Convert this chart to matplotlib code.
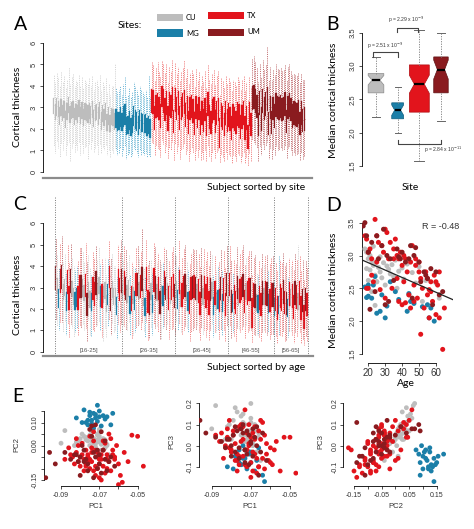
import numpy as np
import matplotlib
matplotlib.use('Agg')
import matplotlib.pyplot as plt
from matplotlib.patches import Rectangle

plt.rcParams['font.family'] = ['Liberation Sans', 'DejaVu Sans']
plt.rcParams['axes.linewidth'] = 0.6
plt.rcParams['xtick.major.width'] = 0.6
plt.rcParams['ytick.major.width'] = 0.6

# ---------------- data: per-subject values, grouped by site ----------------
sites = ['CU', 'MG', 'TX', 'UM']

cu_age = [18, 19, 19, 20, 20, 21, 21, 22, 22, 23, 23, 24, 24, 25, 25, 26, 27, 27, 28, 29,
          30, 31, 32, 33, 34, 35, 36, 37, 38, 40, 41, 43, 44, 46, 48, 50, 52, 54, 24, 25, 60, 62]
cu_med = [3.10, 2.80, 3.05, 2.95, 2.62, 3.00, 2.78, 2.90, 2.45, 2.85,
          3.14, 2.70, 2.88, 2.92, 2.60, 2.82, 2.75, 2.98, 2.66, 2.89,
          2.55, 2.84, 2.79, 2.72, 2.86, 2.68, 2.93, 2.50, 2.76, 2.81,
          2.64, 2.87, 2.40, 2.74, 2.58, 2.83, 2.30, 2.62, 2.24, 2.60, 2.58, 2.35]
cu_q1 = [2.70, 2.40, 2.62, 2.55, 2.20, 2.58, 2.35, 2.50, 2.05, 2.42,
         2.72, 2.30, 2.45, 2.50, 2.18, 2.40, 2.30, 2.55, 2.25, 2.48,
         2.12, 2.40, 2.38, 2.30, 2.45, 2.25, 2.52, 2.08, 2.35, 2.40,
         2.20, 2.45, 1.95, 2.32, 2.15, 2.42, 1.90, 2.20, 1.85, 2.18, 2.15, 1.95]
cu_q3 = [3.45, 3.15, 3.42, 3.30, 3.00, 3.38, 3.12, 3.28, 2.85, 3.20,
         3.50, 3.08, 3.25, 3.30, 2.98, 3.18, 3.12, 3.35, 3.02, 3.25,
         2.92, 3.20, 3.15, 3.10, 3.22, 3.05, 3.30, 2.88, 3.12, 3.18,
         3.00, 3.25, 2.80, 3.10, 2.95, 3.20, 2.70, 3.00, 2.65, 2.98, 2.95, 2.75]
cu_lo = [1.20, 0.90, 1.40, 1.10, 0.70, 1.30, 1.00, 1.50, 0.80, 1.20,
         1.40, 0.50, 1.10, 1.30, 0.90, 1.20, 1.00, 1.40, 0.80, 1.30,
         0.90, 1.10, 1.20, 0.60, 1.30, 1.00, 1.40, 0.90, 1.10, 1.20,
         0.80, 1.30, 0.90, 1.10, 1.00, 1.20, 0.80, 1.00, 0.70, 1.00, 0.90, 1.10]
cu_hi = [4.50, 4.20, 4.60, 4.40, 4.00, 4.70, 4.20, 4.50, 3.90, 4.30,
         4.90, 4.10, 4.40, 4.60, 4.00, 4.30, 4.20, 4.50, 4.00, 4.40,
         3.90, 4.30, 4.20, 4.10, 4.40, 4.00, 4.50, 3.80, 4.20, 4.30,
         4.00, 4.50, 3.80, 4.20, 4.00, 4.40, 3.70, 4.10, 3.60, 4.00, 4.00, 5.00]

mg_age = [18, 19, 20, 20, 22, 23, 24, 25, 27, 28, 30, 31, 33, 36, 38, 43, 44, 45, 47, 52,
          55, 56, 57, 59]
mg_med = [2.52, 2.36, 2.38, 2.55, 2.35, 2.55, 2.68, 2.12, 2.15, 2.40,
          2.05, 2.23, 2.60, 2.45, 2.33, 2.15, 2.42, 2.30, 2.27, 2.22, 2.25, 2.05, 2.20, 2.00]
mg_q1 = [2.05, 1.90, 1.95, 2.10, 1.90, 2.10, 2.20, 1.70, 1.75, 1.95,
         1.65, 1.80, 2.15, 2.00, 1.90, 1.72, 1.98, 1.85, 1.85, 1.80, 1.82, 1.65, 1.78, 1.60]
mg_q3 = [2.95, 2.80, 2.80, 3.00, 2.75, 3.05, 3.15, 2.55, 2.60, 2.85,
         2.50, 2.65, 3.05, 2.90, 2.78, 2.58, 2.88, 2.72, 2.70, 2.65, 2.70, 2.50, 2.62, 2.45]
mg_lo = [1.00, 0.80, 0.90, 1.10, 0.70, 1.00, 1.20, 0.60, 0.80, 0.90,
         0.70, 0.80, 1.10, 1.00, 0.90, 0.70, 1.00, 0.80, 0.90, 0.80, 0.90, 0.70, 0.80, 0.70]
mg_hi = [3.90, 3.70, 3.80, 4.00, 3.60, 4.10, 4.40, 3.50, 3.60, 3.90,
         3.50, 3.70, 4.20, 4.00, 3.80, 3.60, 4.00, 3.80, 3.70, 3.60, 3.80, 3.50, 4.50, 3.50]

tx_age = [18, 19, 20, 20, 21, 22, 23, 24, 25, 25, 26, 27, 28, 29, 30, 30, 31, 32, 33, 34,
          35, 35, 36, 37, 37, 38, 38, 39, 40, 40, 41, 41, 42, 42, 43, 44, 45, 45, 46, 47,
          47, 48, 48, 49, 50, 50, 51, 51, 52, 53, 54, 55, 55, 56, 56, 57, 57, 58, 59, 60,
          60, 61, 62, 62, 19, 64, 22, 65]
tx_med = [3.30, 3.25, 2.50, 3.05, 3.10, 2.95, 2.60, 3.55, 3.30, 2.90,
          3.20, 2.48, 3.15, 3.05, 3.40, 2.35, 3.35, 2.95, 3.20, 2.50,
          2.95, 3.10, 3.25, 2.65, 3.00, 2.30, 2.95, 3.05, 2.85, 2.25,
          3.00, 2.60, 2.95, 2.28, 2.75, 2.40, 2.90, 2.20, 3.15, 2.55,
          2.30, 2.85, 2.95, 2.35, 2.75, 2.90, 1.80, 2.65, 2.50, 2.20,
          2.75, 2.40, 2.65, 2.48, 2.05, 2.60, 2.45, 2.30, 2.70, 2.60,
          2.10, 2.55, 2.75, 2.05, 2.50, 1.57, 2.70, 2.20]
tx_q1 = [2.75, 2.70, 1.95, 2.50, 2.55, 2.40, 2.05, 3.00, 2.75, 2.35,
         2.65, 1.90, 2.60, 2.50, 2.85, 1.80, 2.80, 2.40, 2.65, 1.95,
         2.40, 2.55, 2.70, 2.10, 2.45, 1.75, 2.40, 2.50, 2.30, 1.70,
         2.45, 2.05, 2.40, 1.70, 2.20, 1.85, 2.35, 1.65, 2.60, 2.00,
         1.75, 2.30, 2.40, 1.80, 2.20, 2.35, 1.10, 2.10, 1.95, 1.65,
         2.20, 1.85, 2.10, 1.90, 1.50, 2.05, 1.90, 1.75, 2.15, 2.05,
         1.55, 2.00, 2.20, 1.50, 1.95, 1.05, 2.15, 1.65]
tx_q3 = [3.85, 3.80, 3.05, 3.60, 3.65, 3.50, 3.15, 4.00, 3.85, 3.45,
         3.75, 3.05, 3.70, 3.60, 3.95, 2.90, 3.90, 3.50, 3.75, 3.05,
         3.50, 3.65, 3.80, 3.20, 3.55, 2.85, 3.50, 3.60, 3.40, 2.80,
         3.55, 3.15, 3.50, 2.85, 3.30, 2.95, 3.45, 2.75, 3.70, 3.10,
         2.85, 3.40, 3.50, 2.90, 3.30, 3.45, 2.50, 3.20, 3.05, 2.75,
         3.30, 2.95, 3.20, 3.00, 2.60, 3.15, 3.00, 2.85, 3.25, 3.15,
         2.65, 3.10, 3.30, 2.60, 3.05, 2.20, 3.25, 2.75]
tx_lo = [1.40, 1.30, 0.80, 1.20, 1.10, 1.00, 0.70, 1.50, 1.30, 0.90,
         1.20, 0.60, 1.10, 1.00, 1.40, 0.50, 1.30, 0.90, 1.20, 0.60,
         1.00, 1.10, 1.30, 0.80, 1.00, 0.50, 0.90, 1.10, 0.90, 0.50,
         1.00, 0.70, 1.00, 0.50, 0.90, 0.60, 1.00, 0.50, 1.20, 0.70,
         0.50, 0.90, 1.00, 0.60, 0.90, 1.00, 0.40, 0.80, 0.70, 0.50,
         0.90, 0.60, 0.80, 0.70, 0.40, 0.80, 0.70, 0.50, 0.90, 0.80,
         0.40, 0.70, 0.90, 0.40, 0.70, 0.30, 0.90, 0.50]
tx_hi = [5.10, 5.00, 4.30, 4.90, 5.10, 4.70, 4.40, 5.20, 5.00, 4.60,
         5.00, 4.20, 4.90, 4.70, 5.20, 4.10, 5.10, 4.60, 4.90, 4.30,
         4.70, 4.90, 5.20, 4.40, 4.80, 4.10, 4.60, 4.80, 4.60, 4.00,
         4.80, 4.30, 4.70, 4.00, 4.50, 4.20, 4.70, 3.90, 5.00, 4.30,
         4.10, 4.60, 4.80, 4.10, 4.50, 4.70, 3.60, 4.40, 4.30, 3.90,
         4.50, 4.10, 4.40, 4.20, 3.80, 4.30, 4.20, 4.00, 4.40, 4.30,
         3.80, 4.30, 4.50, 3.80, 4.20, 3.40, 4.40, 3.90]

um_age = [17, 18, 19, 20, 21, 22, 24, 25, 26, 28, 29, 30, 31, 32, 33, 35, 37, 38, 39, 40,
          42, 44, 45, 46, 47, 48, 50, 51, 53, 54, 55, 57, 58, 60, 62, 64]
um_med = [3.45, 3.50, 3.30, 3.05, 2.18, 3.20, 2.45, 3.30, 2.95, 3.15,
          3.40, 2.25, 3.00, 2.30, 2.95, 2.62, 3.10, 2.98, 2.95, 3.05,
          2.90, 2.95, 3.15, 2.35, 3.00, 3.12, 2.90, 2.60, 2.75, 2.70,
          2.65, 2.80, 2.25, 2.75, 2.40, 2.45]
um_q1 = [2.90, 2.95, 2.75, 2.50, 1.65, 2.65, 1.90, 2.75, 2.40, 2.60,
         2.85, 1.70, 2.45, 1.75, 2.40, 2.05, 2.55, 2.45, 2.40, 2.50,
         2.35, 2.40, 2.60, 1.80, 2.45, 2.55, 2.35, 2.05, 2.20, 2.15,
         2.10, 2.25, 1.70, 2.20, 1.85, 1.90]
um_q3 = [4.00, 4.05, 3.85, 3.60, 2.75, 3.75, 3.00, 3.85, 3.50, 3.70,
         3.95, 2.80, 3.55, 2.85, 3.50, 3.15, 3.65, 3.55, 3.50, 3.60,
         3.45, 3.50, 3.70, 2.90, 3.55, 3.65, 3.45, 3.15, 3.30, 3.25,
         3.20, 3.35, 2.80, 3.30, 2.95, 3.00]
um_lo = [1.50, 1.40, 1.30, 1.10, 0.50, 1.20, 0.80, 1.30, 1.00, 1.20,
         1.40, 0.60, 1.10, 0.60, 1.00, 0.80, 1.20, 1.00, 1.00, 1.10,
         1.00, 1.00, 1.20, 0.60, 1.10, 1.20, 1.00, 0.80, 0.90, 0.80,
         0.80, 0.90, 0.50, 0.90, 0.60, 0.70]
um_hi = [5.30, 5.40, 5.10, 4.90, 4.20, 5.00, 4.40, 5.20, 4.80, 5.00,
         5.80, 4.30, 4.90, 4.30, 4.80, 4.50, 5.00, 4.80, 4.80, 4.90,
         4.70, 4.80, 5.00, 4.30, 4.90, 5.00, 4.70, 4.50, 4.60, 4.50,
         4.50, 4.60, 4.20, 4.60, 4.30, 4.30]

# principal components per subject
cu_pc1 = [-0.090, -0.088, -0.079, -0.077, -0.075, -0.074, -0.073, -0.072, -0.071, -0.070,
          -0.069, -0.068, -0.067, -0.066, -0.076, -0.074, -0.072, -0.070, -0.068, -0.071,
          -0.073, -0.075, -0.069, -0.067, -0.078, -0.080, -0.082, -0.072, -0.070, -0.066,
          -0.065, -0.074, -0.071, -0.069, -0.077, -0.073, -0.068, -0.070, -0.076, -0.072,
          -0.081, -0.083]
cu_pc2 = [0.010, 0.065, 0.050, 0.035, 0.045, 0.020, 0.030, 0.025, 0.015, 0.040,
          0.005, 0.010, -0.010, 0.000, 0.020, 0.055, -0.005, 0.030, 0.020, 0.045,
          0.010, 0.000, -0.020, 0.025, 0.040, 0.030, 0.015, -0.030, 0.060, 0.005,
          -0.040, 0.035, 0.050, 0.015, 0.025, -0.015, 0.030, 0.070, -0.050, 0.010,
          0.020, 0.000]
cu_pc3 = [0.080, 0.190, 0.120, 0.080, 0.140, 0.050, 0.100, 0.030, 0.060, 0.110,
          0.000, 0.070, -0.030, 0.040, 0.090, 0.150, 0.020, 0.060, 0.100, 0.070,
          -0.050, 0.050, 0.010, 0.080, 0.180, 0.030, 0.090, -0.020, 0.130, 0.060,
          -0.070, 0.110, 0.070, 0.040, 0.160, 0.020, 0.080, 0.200, -0.060, 0.050,
          0.100, 0.030]
mg_pc1 = [-0.082, -0.078, -0.076, -0.075, -0.074, -0.073, -0.072, -0.071, -0.070, -0.069,
          -0.068, -0.067, -0.066, -0.064, -0.077, -0.075, -0.073, -0.072, -0.074, -0.071,
          -0.076, -0.070, -0.063, -0.079]
mg_pc2 = [0.120, 0.155, 0.110, 0.130, 0.095, 0.140, 0.120, 0.105, 0.150, 0.085,
          0.130, 0.115, 0.125, 0.090, 0.100, 0.145, 0.075, 0.135, 0.110, 0.175,
          0.090, 0.125, 0.140, 0.100]
mg_pc3 = [-0.100, -0.050, -0.020, -0.090, 0.000, -0.060, -0.110, -0.030, -0.080, -0.040,
          -0.120, -0.070, -0.010, -0.140, -0.050, -0.090, -0.020, -0.100, -0.060, -0.040,
          -0.080, -0.030, -0.170, -0.110]
tx_pc1 = [-0.080, -0.078, -0.076, -0.074, -0.072, -0.070, -0.068, -0.066, -0.064, -0.062,
          -0.082, -0.084, -0.086, -0.079, -0.077, -0.075, -0.073, -0.071, -0.069, -0.067,
          -0.065, -0.063, -0.061, -0.060, -0.058, -0.057, -0.055, -0.053, -0.050, -0.047,
          -0.081, -0.079, -0.077, -0.075, -0.073, -0.071, -0.069, -0.067, -0.065, -0.063,
          -0.083, -0.085, -0.081, -0.078, -0.076, -0.074, -0.072, -0.070, -0.068, -0.066,
          -0.080, -0.082, -0.088, -0.076, -0.073, -0.070, -0.068, -0.064, -0.062, -0.059,
          -0.075, -0.077, -0.071, -0.069, -0.074, -0.072, -0.066, -0.060]
tx_pc2 = [-0.050, -0.060, -0.040, -0.070, -0.020, -0.080, 0.020, -0.100, 0.030, -0.060,
          -0.030, -0.050, -0.010, 0.010, -0.090, 0.040, -0.110, -0.030, -0.060, -0.120,
          0.050, -0.040, 0.000, -0.080, -0.160, -0.030, -0.070, 0.045, 0.040, -0.090,
          -0.070, -0.040, -0.020, -0.060, 0.020, -0.100, -0.040, 0.010, -0.070, -0.020,
          -0.080, -0.040, 0.000, -0.110, -0.050, -0.030, -0.130, -0.060, -0.090, -0.040,
          -0.090, 0.030, -0.060, -0.070, 0.060, -0.140, -0.020, -0.110, -0.050, -0.130,
          -0.100, -0.080, -0.050, -0.150, -0.010, -0.090, -0.060, -0.170]
tx_pc3 = [-0.020, 0.010, -0.050, 0.030, 0.060, -0.080, 0.090, -0.100, 0.110, -0.040,
          0.040, -0.060, 0.020, 0.070, -0.120, 0.100, -0.090, 0.000, -0.030, -0.130,
          0.120, 0.050, -0.070, -0.080, -0.020, 0.020, -0.120, 0.040, 0.040, -0.130,
          -0.010, 0.050, -0.040, 0.080, -0.020, 0.010, 0.060, -0.060, 0.030, -0.110,
          0.000, 0.060, 0.120, -0.070, 0.090, -0.050, -0.100, 0.040, -0.040, 0.070,
          -0.030, 0.080, 0.050, -0.090, 0.170, -0.150, 0.030, -0.060, 0.010, -0.090,
          0.020, -0.070, 0.100, -0.120, 0.090, -0.020, -0.100, -0.010]
um_pc1 = [-0.098, -0.096, -0.093, -0.088, -0.085, -0.083, -0.081, -0.080, -0.079, -0.078,
          -0.077, -0.076, -0.075, -0.074, -0.073, -0.072, -0.071, -0.070, -0.069, -0.068,
          -0.067, -0.066, -0.065, -0.064, -0.062, -0.078, -0.074, -0.072, -0.070, -0.076,
          -0.082, -0.069, -0.073, -0.071, -0.080, -0.067]
um_pc2 = [-0.140, -0.030, -0.080, -0.030, -0.060, -0.040, -0.070, -0.050, 0.000, -0.020,
          -0.060, -0.080, 0.070, 0.085, -0.030, 0.090, -0.100, -0.040, -0.120, -0.020,
          0.020, -0.110, -0.070, -0.050, -0.090, -0.070, 0.040, -0.050, -0.080, -0.110,
          -0.040, 0.060, -0.140, -0.020, -0.130, -0.060]
um_pc3 = [0.110, 0.120, 0.060, 0.040, 0.020, -0.010, 0.030, 0.000, 0.050, -0.030,
          0.070, -0.060, 0.080, 0.100, -0.020, 0.070, -0.090, 0.010, -0.050, 0.040,
          0.090, -0.140, -0.030, 0.060, -0.070, 0.090, 0.060, -0.040, 0.020, -0.010,
          0.030, 0.080, -0.080, 0.050, -0.050, 0.000]

# panel B summary
b_whislo = [2.24, 2.00, 1.57, 2.18]
b_q1 = [2.60, 2.21, 2.31, 2.60]
b_med = [2.79, 2.34, 2.73, 2.95]
b_q3 = [2.89, 2.45, 3.02, 3.14]
b_whishi = [3.14, 2.69, 3.55, 3.50]
b_pvals = ['p = 2.51 x 10$^{-9}$', 'p = 2.29 x 10$^{-9}$', 'p = 2.84 x 10$^{-11}$']

age_bins = ['[16-25]', '[26-35]', '[36-45]', '[46-55]', '[56-65]']
age_upper = [25, 35, 45, 55, 65]
r_text = 'R = -0.48'

# ---------------- styling ----------------
COL = {'CU': '#bdbdbd', 'MG': '#1b7fa8', 'TX': '#e2141c', 'UM': '#8a1b1f'}
WHISK = {'CU': '#cdcdcd', 'MG': '#5badd0', 'TX': '#ee6b6b', 'UM': '#b8585b'}
EDGE = {'CU': '#8a8a8a', 'MG': '#0f5c7c', 'TX': '#b00f14', 'UM': '#5e1214'}
LABF = ['Lato', 'DejaVu Sans']

data = {
    'CU': dict(age=cu_age, med=cu_med, q1=cu_q1, q3=cu_q3, lo=cu_lo, hi=cu_hi, pc=(cu_pc1, cu_pc2, cu_pc3)),
    'MG': dict(age=mg_age, med=mg_med, q1=mg_q1, q3=mg_q3, lo=mg_lo, hi=mg_hi, pc=(mg_pc1, mg_pc2, mg_pc3)),
    'TX': dict(age=tx_age, med=tx_med, q1=tx_q1, q3=tx_q3, lo=tx_lo, hi=tx_hi, pc=(tx_pc1, tx_pc2, tx_pc3)),
    'UM': dict(age=um_age, med=um_med, q1=um_q1, q3=um_q3, lo=um_lo, hi=um_hi, pc=(um_pc1, um_pc2, um_pc3)),
}

W, H = 474, 529
fig = plt.figure(figsize=(W / 100, H / 100), dpi=100)


def ax_px(l, t, r, b):
    return fig.add_axes([l / W, 1 - b / H, (r - l) / W, (b - t) / H])


def ftext(x, y, s, **kw):
    fig.text(x / W, 1 - y / H, s, **kw)


def site_stats(s):
    d = data[s]
    return [dict(med=m, q1=a, q3=b, whislo=lo, whishi=hi, fliers=[])
            for m, a, b, lo, hi in zip(d['med'], d['q1'], d['q3'], d['lo'], d['hi'])]


def draw_site(ax, s, pos, z):
    ax.bxp(site_stats(s), positions=pos, widths=0.9, patch_artist=True,
           showfliers=False, showcaps=False, manage_ticks=False,
           boxprops=dict(facecolor=COL[s], edgecolor=COL[s], linewidth=0.2, zorder=z + 1),
           whiskerprops=dict(color=WHISK[s], linestyle=(0, (1.3, 1.3)), linewidth=0.6, zorder=z),
           medianprops=dict(color=COL[s], linewidth=0.4, zorder=z + 1))


def style_box_axes(ax):
    for sp in ['top', 'right']:
        ax.spines[sp].set_visible(False)
    ax.spines['left'].set_bounds(0, 6)
    ax.spines['bottom'].set_color('#8c8c8c')
    ax.spines['bottom'].set_linewidth(1.6)
    ax.set_xticks([])
    ax.set_yticks(range(7))
    ax.tick_params(axis='y', labelsize=5.5, length=2.5, pad=1.5, labelrotation=90, colors='#333333')
    for lb in ax.get_yticklabels():
        lb.set_va('center')


counts = [len(data[s]['med']) for s in sites]
n_all = sum(counts)

# ---------------- Panel A ----------------
axA = ax_px(43, 38, 312, 178)
start = 1
for s, c in zip(sites, counts):
    draw_site(axA, s, np.arange(start, start + c), 2)
    start += c
axA.set_xlim(-6.25, n_all + 5.2)
axA.set_ylim(-0.28, 6.23)
style_box_axes(axA)

# legend
ftext(118, 25, 'Sites:', fontsize=7.5, family=LABF, va='center', ha='left')
leg = [('CU', 157, 14, 26, 7, 186, 17), ('MG', 157, 29, 26, 8, 186, 33),
       ('TX', 208, 12, 36, 7, 247, 15), ('UM', 208, 29, 36, 7, 247, 32)]
for s, x, y, w, h, tx, ty in leg:
    fig.add_artist(Rectangle((x / W, 1 - (y + h) / H), w / W, h / H, transform=fig.transFigure,
                             facecolor=COL[s], edgecolor='none'))
    ftext(tx, ty, s, fontsize=5.5, family=LABF, va='center', ha='left')

ftext(18, 107, 'Cortical thickness', fontsize=7.5, family=LABF, rotation=90, va='center', ha='center')
ftext(305, 187, 'Subject sorted by site', fontsize=7.5, family=LABF, va='center', ha='right')

# ---------------- Panel C ----------------
axC = ax_px(43, 197, 313, 356)
all_age = np.concatenate([data[s]['age'] for s in sites])
order = np.argsort(all_age, kind='stable')
rank = np.empty(n_all, dtype=int)
rank[order] = np.arange(1, n_all + 1)
start = 0
for k, (s, c) in enumerate(zip(sites, counts)):
    draw_site(axC, s, rank[start:start + c], 2 + 2 * k)
    start += c
edges = [0.5] + [np.sum(all_age <= u) + 0.5 for u in age_upper]
for e in edges:
    axC.axvline(e, color='#777777', linestyle=(0, (1, 1.5)), linewidth=0.7, zorder=20)
for lab, e0, e1 in zip(age_bins, edges[:-1], edges[1:]):
    axC.text((e0 + e1) / 2, 0.08, lab, fontsize=4.3, color='#555555', ha='center', va='center')
axC.set_xlim(-7.6, n_all + 4.0)
axC.set_ylim(-0.2, 7.23)
style_box_axes(axC)
ftext(18, 295, 'Cortical thickness', fontsize=7.5, family=LABF, rotation=90, va='center', ha='center')
ftext(305, 368, 'Subject sorted by age', fontsize=7.5, family=LABF, va='center', ha='right')

# ---------------- Panel B ----------------
axB = ax_px(362, 25, 470, 170)
bstats = []
for i, s in enumerate(sites):
    n = counts[i]
    iqr = b_q3[i] - b_q1[i]
    bstats.append(dict(med=b_med[i], q1=b_q1[i], q3=b_q3[i], whislo=b_whislo[i], whishi=b_whishi[i],
                       cilo=b_med[i] - 1.58 * iqr / np.sqrt(n), cihi=b_med[i] + 1.58 * iqr / np.sqrt(n),
                       fliers=[]))
bw = [0.92 * np.sqrt(c) / np.sqrt(max(counts)) for c in counts]
res = axB.bxp(bstats, positions=[1, 2, 3, 4], widths=bw, shownotches=True, patch_artist=True,
              showfliers=False, manage_ticks=False, capwidths=[w * 0.5 for w in bw],
              whiskerprops=dict(color='#8c8c8c', linestyle=(0, (1.3, 1.3)), linewidth=0.7),
              capprops=dict(color='#666666', linewidth=0.7),
              medianprops=dict(color='black', linewidth=1.6))
for patch, s in zip(res['boxes'], sites):
    patch.set_facecolor(COL[s])
    patch.set_edgecolor(EDGE[s])
    patch.set_linewidth(0.5)
axB.set_xlim(0.354, 5.34)
axB.set_ylim(1.44, 3.62)
for sp in ['top', 'right', 'bottom']:
    axB.spines[sp].set_visible(False)
axB.spines['left'].set_bounds(1.5, 3.5)
axB.set_xticks([])
axB.set_yticks([1.5, 2.0, 2.5, 3.0, 3.5])
axB.set_yticklabels(['1.5', '2.0', '2.5', '3.0', '3.5'])
axB.tick_params(axis='y', labelsize=5.5, length=2.5, pad=1.5, labelrotation=90, colors='#333333')
for lb in axB.get_yticklabels():
    lb.set_va('center')
brk = dict(color='#444444', linewidth=0.8, clip_on=False)
axB.plot([0.85, 0.85, 2.0, 2.0], [3.14, 3.22, 3.22, 3.14], **brk)
axB.plot([1.955, 1.955, 2.94, 2.94], [3.52, 3.57, 3.57, 3.52], **brk)
axB.plot([2.02, 2.02, 4.0, 4.0], [1.89, 1.83, 1.83, 1.89], **brk)
axB.text(1.42, 3.30, b_pvals[0], fontsize=3.6, ha='center', va='center', color='#333333', clip_on=False)
axB.text(2.4, 3.69, b_pvals[1], fontsize=3.6, ha='center', va='center', color='#333333', clip_on=False)
axB.text(3.2, 1.75, b_pvals[2], fontsize=3.6, ha='left', va='center', color='#333333', clip_on=False)
ftext(334, 100, 'Median cortical thickness', fontsize=7.5, family=LABF, rotation=90, va='center', ha='center')
ftext(410, 187, 'Site', fontsize=7.5, family=LABF, va='center', ha='center')

# ---------------- Panel D ----------------
axD = ax_px(361.7, 215, 453, 362.7)
for s in sites:
    axD.scatter(data[s]['age'], data[s]['med'], s=13, color=COL[s], edgecolors='none', zorder=3)
all_med = np.concatenate([data[s]['med'] for s in sites])
slope, icpt = np.polyfit(all_age, all_med, 1)
xx = np.array([16.1, 70.1])
axD.plot(xx, icpt + slope * xx, color='#222222', linewidth=0.9, zorder=4)
axD.set_xlim(16.1, 70.1)
axD.set_ylim(1.367, 3.617)
for sp in ['top', 'right']:
    axD.spines[sp].set_visible(False)
axD.spines['left'].set_bounds(1.5, 3.5)
axD.spines['bottom'].set_bounds(20, 60)
axD.set_xticks([20, 30, 40, 50, 60])
axD.set_yticks([1.5, 2.0, 2.5, 3.0, 3.5])
axD.set_yticklabels(['1.5', '2.0', '2.5', '3.0', '3.5'])
axD.tick_params(axis='x', labelsize=7, length=2.5, pad=1.5, colors='#333333')
axD.tick_params(axis='y', labelsize=5.5, length=2.5, pad=1.5, labelrotation=90, colors='#333333')
for lb in axD.get_yticklabels():
    lb.set_va('center')
axD.text(0.86, 0.92, r_text, transform=axD.transAxes, fontsize=6.5, ha='center', va='center', color='#333333')
ftext(334, 290, 'Median cortical thickness', fontsize=7.5, family=LABF, rotation=90, va='center', ha='center')
ftext(406, 383, 'Age', fontsize=7.5, family=LABF, va='center', ha='center')


# ---------------- Panel E ----------------
def pc_axes(box, xi, yi, xlim, ylim, xt, xtl, yt, ytl, xb, yb):
    ax = ax_px(*box)
    for s in sites:
        ax.scatter(data[s]['pc'][xi], data[s]['pc'][yi], s=12, color=COL[s], edgecolors='none', zorder=3)
    ax.set_xlim(*xlim)
    ax.set_ylim(*ylim)
    for sp in ['top', 'right']:
        ax.spines[sp].set_visible(False)
    ax.spines['bottom'].set_bounds(*xb)
    ax.spines['left'].set_bounds(*yb)
    ax.set_xticks(xt)
    ax.set_xticklabels(xtl)
    ax.set_yticks(yt)
    ax.set_yticklabels(ytl)
    ax.tick_params(axis='x', labelsize=5, length=2, pad=2, colors='#333333')
    ax.tick_params(axis='y', labelsize=5, length=2, pad=1.5, labelrotation=90, colors='#333333')
    for lb in ax.get_yticklabels():
        lb.set_va('center')
    return ax


pc1_t = [-0.09, -0.08, -0.07, -0.06, -0.05]
pc1_tl = ['-0.09', '', '-0.07', '', '-0.05']
pc_axes((44, 400, 147, 486), 0, 1, (-0.0989, -0.0451), (-0.176, 0.198), pc1_t, pc1_tl,
        [-0.15, -0.10, -0.05, 0.0, 0.05, 0.10, 0.15], ['-0.15', '', '', '0.00', '', '0.10', ''],
        (-0.09, -0.05), (-0.15, 0.15))
pc_axes((199, 398, 298, 486), 0, 2, (-0.0965, -0.0459), (-0.191, 0.226), pc1_t, pc1_tl,
        [-0.1, 0.0, 0.1, 0.2], ['-0.1', '0.0', '0.1', '0.2'], (-0.09, -0.05), (-0.1, 0.2))
pc_axes((343.3, 398, 447, 486), 1, 2, (-0.1888, 0.1873), (-0.191, 0.226),
        [-0.15, -0.10, -0.05, 0.0, 0.05, 0.10, 0.15], ['-0.15', '', '-0.05', '', '0.05', '', '0.15'],
        [-0.1, 0.0, 0.1, 0.2], ['-0.1', '0.0', '0.1', '0.2'], (-0.15, 0.15), (-0.1, 0.2))

ftext(17, 445, 'PC2', fontsize=5.5, rotation=90, va='center', ha='center', color='#333333')
ftext(96, 506, 'PC1', fontsize=5.5, va='center', ha='center', color='#333333')
ftext(172, 442, 'PC3', fontsize=5.5, rotation=90, va='center', ha='center', color='#333333')
ftext(250, 506, 'PC1', fontsize=5.5, va='center', ha='center', color='#333333')
ftext(321, 442, 'PC3', fontsize=5.5, rotation=90, va='center', ha='center', color='#333333')
ftext(396, 506, 'PC2', fontsize=5.5, va='center', ha='center', color='#333333')

# panel letters
for L, x, y in [('A', 14, 25), ('B', 326, 25), ('C', 13, 205), ('D', 326, 206), ('E', 12, 397)]:
    ftext(x, y, L, fontsize=14, family=LABF, va='center', ha='left')

fig.savefig('out.png', dpi=100)
